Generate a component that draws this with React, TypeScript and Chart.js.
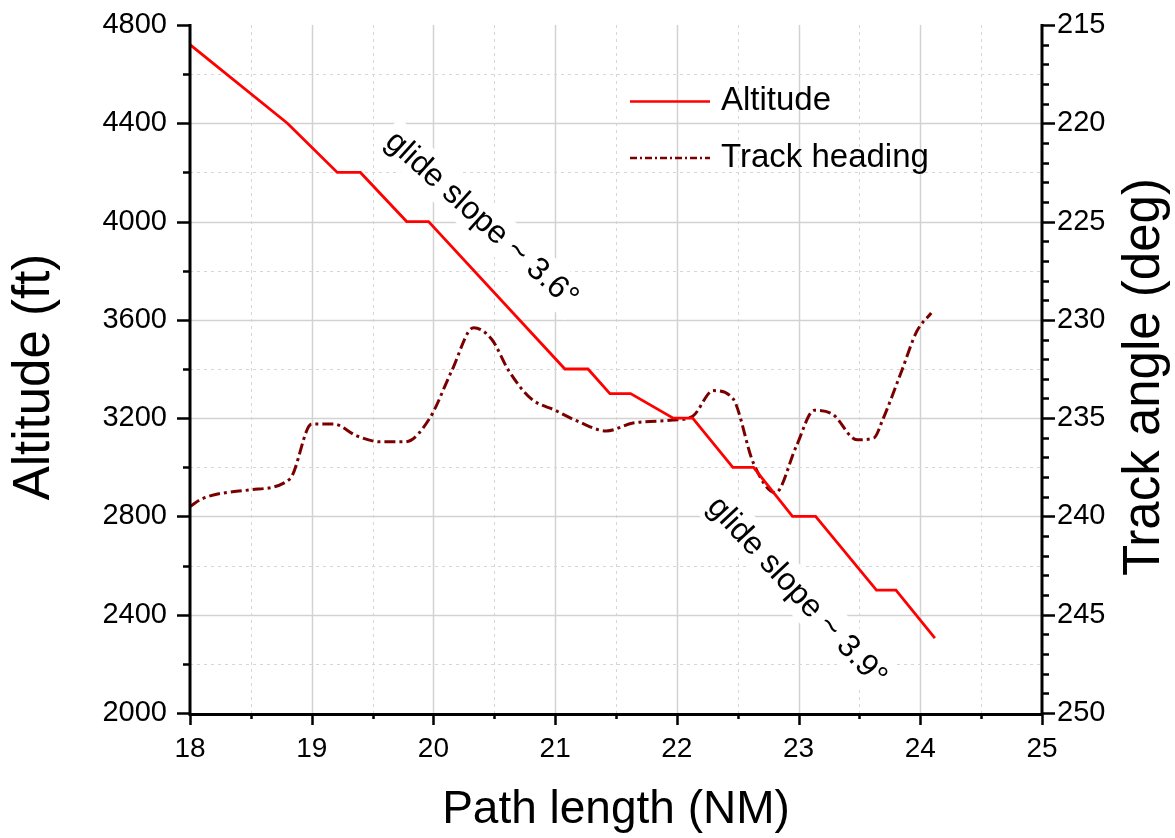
import React, { useEffect, useRef } from 'react';
import { Chart, registerables } from 'chart.js';

Chart.register(...registerables);

// ---- Data ----
const altDist = [18, 18.8, 19.21, 19.4, 19.78, 19.96, 21.08, 21.27, 21.45, 21.62, 21.97, 22.13, 22.46, 22.63, 22.95, 23.14, 23.64, 23.8, 24.12];
const altitudeFt = [4720, 4400, 4200, 4200, 4000, 4000, 3400, 3400, 3300, 3300, 3200, 3200, 3000, 3000, 2800, 2800, 2500, 2500, 2305];

const hdgDist = [18, 18.1, 18.49, 18.82, 19.0, 19.18, 19.37, 19.56, 19.77, 19.97, 20.15, 20.33, 20.48, 20.62, 20.8, 21.0, 21.2, 21.42, 21.64, 21.97, 22.13, 22.3, 22.46, 22.63, 22.81, 22.98, 23.13, 23.28, 23.48, 23.62, 23.69, 23.85, 23.97, 24.09];
const trackHeading = [239.5, 239.1, 238.65, 238.1, 235.3, 235.3, 235.9, 236.2, 236.2, 235.0, 232.6, 230.4, 231.0, 232.6, 234.0, 234.6, 235.2, 235.65, 235.25, 235.1, 234.9, 233.6, 234.0, 237.3, 238.8, 236.45, 234.6, 234.8, 236.1, 236.0, 235.1, 232.55, 230.6, 229.65];

const seriesNames = ['Altitude', 'Track heading'];
const annotations = [
  { text: 'glide slope ~ 3.6°', x: 20.40, y: 4010, angle: 42 },
  { text: 'glide slope ~ 3.9°', x: 22.99, y: 2495, angle: 47 },
];

const FONT = '"Liberation Sans", Arial, Helvetica, sans-serif';
const ALT_COLOR = '#ff0000';
const HDG_COLOR = '#7a0000';
const HDG_DASH = [11, 4, 3, 4];

const customPlugin = {
  id: 'customDecor',
  beforeDatasetsDraw(chart: any) {
    const { ctx, chartArea: ca, scales } = chart;
    const x = scales.x;
    const y = scales.y;
    ctx.save();
    for (let i = 1; i < 14; i++) {
      const v = 18 + i * 0.5;
      const major = i % 2 === 0;
      const px = Math.round(x.getPixelForValue(v)) + 0.5;
      ctx.beginPath();
      ctx.setLineDash(major ? [] : [3, 4]);
      ctx.strokeStyle = major ? '#d2d2d2' : '#d6d6d6';
      ctx.lineWidth = major ? 1.5 : 1;
      ctx.moveTo(px, ca.top);
      ctx.lineTo(px, ca.bottom);
      ctx.stroke();
    }
    for (let i = 1; i < 14; i++) {
      const v = 2000 + i * 200;
      const major = i % 2 === 0;
      const py = Math.round(y.getPixelForValue(v)) + 0.5;
      ctx.beginPath();
      ctx.setLineDash(major ? [] : [3, 4]);
      ctx.strokeStyle = major ? '#d2d2d2' : '#d6d6d6';
      ctx.lineWidth = major ? 1.5 : 1;
      ctx.moveTo(ca.left, py);
      ctx.lineTo(ca.right, py);
      ctx.stroke();
    }
    ctx.setLineDash([]);
    ctx.font = `32px ${FONT}`;
    ctx.textAlign = 'center';
    ctx.textBaseline = 'middle';
    for (const a of annotations) {
      const cx = x.getPixelForValue(a.x);
      const cy = y.getPixelForValue(a.y);
      ctx.save();
      ctx.translate(cx, cy);
      ctx.rotate((a.angle * Math.PI) / 180);
      const w = ctx.measureText(a.text).width;
      ctx.fillStyle = '#ffffff';
      ctx.fillRect(-w / 2 - 6, -20, w + 12, 40);
      ctx.fillStyle = '#000000';
      ctx.fillText(a.text, 0, 1);
      ctx.restore();
    }
    ctx.restore();
  },
  afterDraw(chart: any) {
    const { ctx, chartArea: ca, scales } = chart;
    const x = scales.x;
    const y = scales.y;
    const y2 = scales.y2;
    ctx.save();
    ctx.strokeStyle = '#000000';
    ctx.lineWidth = 3;
    ctx.beginPath();
    ctx.moveTo(ca.left, ca.top - 1);
    ctx.lineTo(ca.left, ca.bottom + 1.5);
    ctx.lineTo(ca.right, ca.bottom + 1.5);
    ctx.moveTo(ca.right, ca.bottom + 1.5);
    ctx.lineTo(ca.right, ca.top - 1);
    ctx.stroke();
    ctx.lineWidth = 2.5;
    ctx.beginPath();
    for (let i = 0; i <= 14; i++) {
      const v = 2000 + i * 200;
      const len = i % 2 === 0 ? 13 : 7;
      const py = Math.round(y.getPixelForValue(v)) + 0.5;
      ctx.moveTo(ca.left, py);
      ctx.lineTo(ca.left - len, py);
    }
    for (let v = 215; v <= 250; v++) {
      const len = v % 5 === 0 ? 13 : 7;
      const py = Math.round(y2.getPixelForValue(v)) + 0.5;
      ctx.moveTo(ca.right, py);
      ctx.lineTo(ca.right + len, py);
    }
    for (let i = 0; i <= 14; i++) {
      const v = 18 + i * 0.5;
      const len = i % 2 === 0 ? 12 : 6;
      const px = Math.round(x.getPixelForValue(v)) + 0.5;
      ctx.moveTo(px, ca.bottom);
      ctx.lineTo(px, ca.bottom + len);
    }
    ctx.stroke();

    ctx.fillStyle = '#000000';
    ctx.textAlign = 'center';
    ctx.textBaseline = 'middle';
    const midY = (ca.top + ca.bottom) / 2;
    ctx.font = `51px ${FONT}`;
    ctx.save();
    ctx.translate(35, midY + 8);
    ctx.rotate(-Math.PI / 2);
    ctx.fillText('Altitude (ft)', 0, 0);
    ctx.restore();
    ctx.save();
    ctx.translate(1145, midY + 8);
    ctx.rotate(-Math.PI / 2);
    ctx.fillText('Track angle (deg)', 0, 0);
    ctx.restore();
    ctx.font = `46px ${FONT}`;
    ctx.textBaseline = 'alphabetic';
    ctx.fillText('Path length (NM)', (ca.left + ca.right) / 2, 823);

    ctx.lineWidth = 2.5;
    ctx.strokeStyle = ALT_COLOR;
    ctx.beginPath();
    ctx.moveTo(630, 101.5);
    ctx.lineTo(710, 101.5);
    ctx.stroke();
    ctx.strokeStyle = HDG_COLOR;
    ctx.setLineDash([7, 3, 2, 3]);
    ctx.beginPath();
    ctx.moveTo(630, 158);
    ctx.lineTo(710, 158);
    ctx.stroke();
    ctx.setLineDash([]);
    ctx.font = `33px ${FONT}`;
    ctx.textAlign = 'left';
    ctx.textBaseline = 'middle';
    ctx.fillText(seriesNames[0], 721, 101);
    ctx.fillText(seriesNames[1], 721, 158);
    ctx.restore();
  },
};

const plainTick = (v: any) => String(v);

export default function App() {
  const canvasRef = useRef<HTMLCanvasElement | null>(null);

  useEffect(() => {
    if (!canvasRef.current) return;
    const chart = new Chart(canvasRef.current, {
      type: 'line',
      data: {
        datasets: [
          {
            label: seriesNames[0],
            data: altDist.map((d, i) => ({ x: d, y: altitudeFt[i] })),
            borderColor: ALT_COLOR,
            borderWidth: 2.8,
            pointRadius: 0,
            tension: 0,
            yAxisID: 'y',
          },
          {
            label: seriesNames[1],
            data: hdgDist.map((d, i) => ({ x: d, y: trackHeading[i] })),
            borderColor: HDG_COLOR,
            borderWidth: 3,
            borderDash: HDG_DASH,
            pointRadius: 0,
            cubicInterpolationMode: 'monotone',
            yAxisID: 'y2',
          },
        ],
      },
      options: {
        animation: false,
        responsive: false,
        maintainAspectRatio: false,
        layout: { padding: { top: 25, left: 0, right: 0, bottom: 0 } },
        plugins: { legend: { display: false }, tooltip: { enabled: false } },
        scales: {
          x: {
            type: 'linear',
            min: 18,
            max: 25,
            grid: { display: false, drawTicks: false },
            border: { display: false },
            ticks: { stepSize: 1, autoSkip: false, padding: 19, color: '#000', font: { family: FONT, size: 28 }, callback: plainTick },
            afterFit: (s: any) => { s.height = 125; s.paddingLeft = 0; s.paddingRight = 0; },
          },
          y: {
            type: 'linear',
            position: 'left',
            min: 2000,
            max: 4800,
            grid: { display: false, drawTicks: false },
            border: { display: false },
            ticks: { stepSize: 400, autoSkip: false, padding: 23, color: '#000', font: { family: FONT, size: 29 }, callback: plainTick },
            afterFit: (s: any) => { s.width = 190; s.paddingTop = 0; s.paddingBottom = 0; },
          },
          y2: {
            type: 'linear',
            position: 'right',
            min: 215,
            max: 250,
            reverse: true,
            grid: { display: false, drawTicks: false },
            border: { display: false },
            ticks: { stepSize: 5, autoSkip: false, padding: 15, color: '#000', font: { family: FONT, size: 29 }, callback: plainTick },
            afterFit: (s: any) => { s.width = 133; s.paddingTop = 0; s.paddingBottom = 0; },
          },
        },
      } as any,
      plugins: [customPlugin],
    });
    return () => chart.destroy();
  }, []);

  return (
    <div style={{ position: 'absolute', left: 0, top: 0, width: 1175, height: 838, background: '#fff' }}>
      <canvas ref={canvasRef} width={1175} height={838} style={{ display: 'block' }} />
    </div>
  );
}
